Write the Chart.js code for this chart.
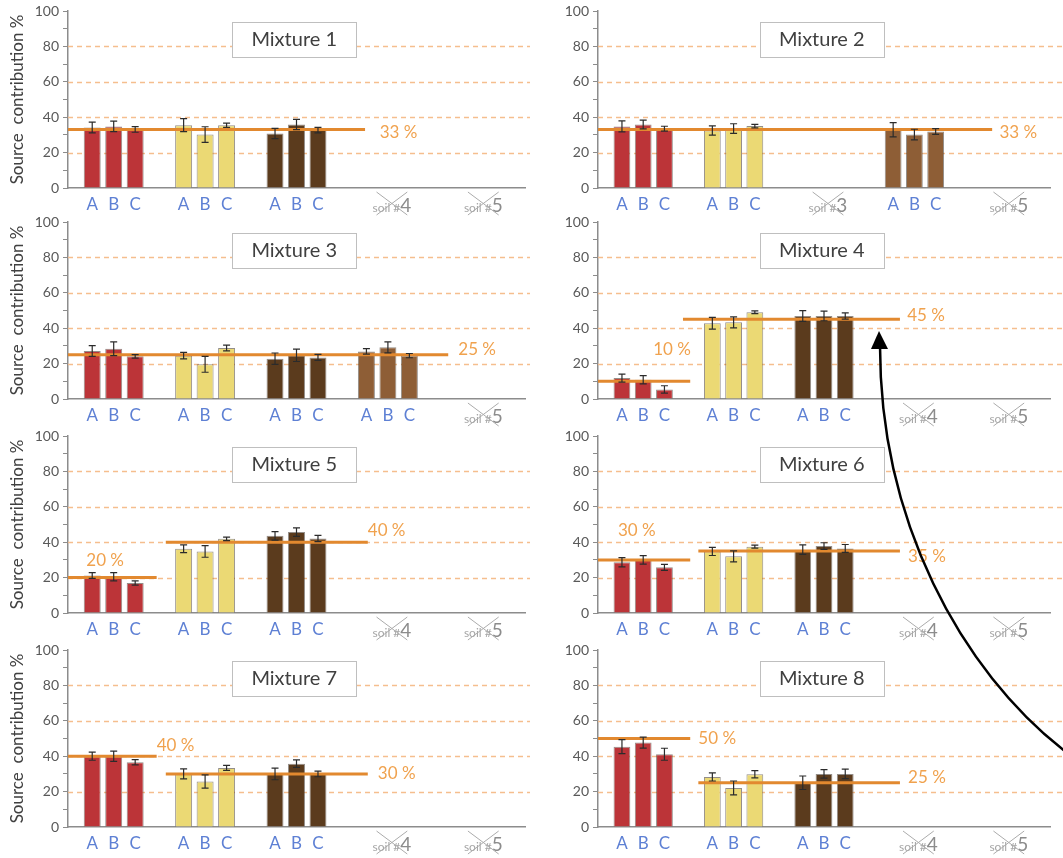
<!DOCTYPE html>
<html>
<head>
<meta charset="utf-8">
<title>Source contributions in soil mixtures</title>
<script src="https://cdn.jsdelivr.net/npm/chart.js@4.4.1/dist/chart.umd.min.js"></script>
<style>
  html, body { margin: 0; padding: 0; background: #ffffff; }
  #page { position: relative; width: 1063px; height: 858px; overflow: hidden; background: #ffffff; }
  .panel { position: absolute; }
  #arrow { position: absolute; left: 0; top: 0; pointer-events: none; }
</style>
</head>
<body>
<div id="page"></div>
<script>
// ---- data -------------------------------------------------------------
const soils = ['soil #1', 'soil #2', 'soil #3', 'soil #4', 'soil #5'];
const replicates = ['A', 'B', 'C'];
const mixtureNames = ['Mixture 1', 'Mixture 2', 'Mixture 3', 'Mixture 4',
                      'Mixture 5', 'Mixture 6', 'Mixture 7', 'Mixture 8'];
const yTicks = [0, 20, 40, 60, 80, 100];

// mean contribution (%) per soil, replicates A/B/C; null = soil not in mixture
const means1 = [[34.2, 34.8, 33.1], [35.5, 30.2, 35.5], [30.8, 35.9, 32.7], null, null];
const means2 = [[34.8, 35.9, 33.5], [32.5, 33.6, 35.0], null, [32.9, 30.2, 31.9], null];
const means3 = [[27.1, 28.4, 24.1], [24.5, 19.6, 28.8], [22.8, 24.7, 23.5], [26.9, 29.2, 24.5], null];
const means4 = [[11.8, 10.9, 5.4], [42.8, 43.3, 49.0], [46.9, 46.9, 46.9], null, null];
const means5 = [[21.2, 20.5, 16.9], [36.3, 34.8, 41.9], [43.6, 45.7, 42.1], null, null];
const means6 = [[28.7, 30.0, 25.8], [34.8, 32.0, 37.5], [35.8, 37.8, 36.5], null, null];
const means7 = [[40.0, 40.0, 36.6], [30.0, 25.7, 33.4], [30.0, 35.8, 30.0], null, null];
const means8 = [[45.4, 47.7, 41.1], [28.3, 22.1, 29.8], [25.0, 30.0, 30.0], null, null];

// standard deviation (%) for the same bars
const errors1 = [[3.0, 3.0, 1.6], [3.7, 4.4, 1.2], [2.9, 2.9, 1.5], null, null];
const errors2 = [[3.1, 2.5, 1.4], [2.6, 2.7, 1.0], null, [4.0, 3.0, 1.6], null];
const errors3 = [[3.0, 3.9, 1.0], [1.8, 4.5, 1.6], [3.2, 3.5, 1.7], [1.6, 3.1, 1.2], null];
const errors4 = [[2.3, 2.3, 2.1], [3.3, 3.1, 0.8], [3.0, 2.7, 1.8], null, null];
const errors5 = [[1.6, 2.3, 1.2], [2.2, 3.3, 1.0], [2.4, 2.4, 1.8], null, null];
const errors6 = [[2.6, 2.4, 1.7], [2.3, 3.1, 0.9], [2.7, 1.9, 2.2], null, null];
const errors7 = [[2.3, 2.9, 1.5], [2.8, 3.7, 1.4], [3.3, 2.1, 1.6], null, null];
const errors8 = [[4.0, 3.1, 3.4], [2.3, 3.9, 2.0], [3.8, 2.4, 2.7], null, null];

// true (prepared) proportions of each mixture, in %
const targets1 = [33];
const targets2 = [33];
const targets3 = [25];
const targets4 = [10, 45];
const targets5 = [20, 40];
const targets6 = [30, 35];
const targets7 = [40, 30];
const targets8 = [50, 25];

const allMeans = [means1, means2, means3, means4, means5, means6, means7, means8];
const allErrors = [errors1, errors2, errors3, errors4, errors5, errors6, errors7, errors8];
const allTargets = [targets1, targets2, targets3, targets4, targets5, targets6, targets7, targets8];

// ---- layout / style ---------------------------------------------------
const FONT = 'Lato, "Open Sans", "DejaVu Sans", sans-serif';
const soilColors = ['#BC3438', '#EBD974', '#5B3B1D', '#8E5E36', '#999999'];
const rowTops = [1, 212, 426, 640];
const PANEL_H = 220;

// horizontal extent of each target line in category units, where its label starts,
// and the label's vertical offset (px) from the line
const targetSpans = [
  [[-0.5, 2.75, 2.91, 3]],
  [[-0.5, 3.86, 3.94, 3]],
  [[-0.5, 3.66, 3.77, -5]],
  [[-0.5, 0.52, 0.11, -32], [0.44, 2.84, 2.92, -4]],
  [[-0.5, 0.47, -0.30, -17], [0.57, 2.78, 2.78, -12]],
  [[-0.5, 0.52, -0.28, -29], [0.61, 2.84, 2.93, 5]],
  [[-0.5, 0.47, 0.47, -11], [0.57, 2.78, 2.89, 0]],
  [[-0.5, 0.52, 0.61, 0], [0.61, 2.84, 2.93, -5]]
];

// ---- drawing helpers ---------------------------------------------------
const panelDecor = {
  id: 'panelDecor',
  beforeDatasetsDraw(chart) {
    const { ctx, chartArea: a, scales: { y } } = chart;
    ctx.save();
    ctx.strokeStyle = '#F5BE8E';
    ctx.lineWidth = 1.4;
    ctx.setLineDash([5, 4]);
    yTicks.filter(v => v > 0 && v < 100).forEach(v => {
      const py = Math.round(y.getPixelForValue(v)) + 0.5;
      ctx.beginPath();
      ctx.moveTo(a.left, py);
      ctx.lineTo(chart.width, py);
      ctx.stroke();
    });
    ctx.restore();
  },
  afterDatasetsDraw(chart, args, opts) {
    const { ctx, chartArea: a, scales: { x, y } } = chart;
    const means = opts.means, errors = opts.errors;

    // target proportion lines
    ctx.save();
    opts.targets.forEach((t, k) => {
      const [from, to, labX, labDy] = opts.spans[k];
      const py = y.getPixelForValue(t);
      ctx.strokeStyle = '#E2892F';
      ctx.lineWidth = 3;
      ctx.beginPath();
      ctx.moveTo(x.getPixelForValue(from), py);
      ctx.lineTo(x.getPixelForValue(to), py);
      ctx.stroke();
      ctx.fillStyle = '#F0A24E';
      ctx.font = `17px ${FONT}`;
      ctx.textAlign = 'left';
      ctx.textBaseline = 'middle';
      ctx.fillText(t + ' %', x.getPixelForValue(labX), py + labDy);
    });
    ctx.restore();

    // error bars
    ctx.save();
    ctx.strokeStyle = '#2b2b2b';
    ctx.lineWidth = 1.2;
    for (let r = 0; r < replicates.length; r++) {
      const meta = chart.getDatasetMeta(r);
      means.forEach((s, i) => {
        if (!s) return;
        const bx = meta.data[i].x;
        const yt = y.getPixelForValue(s[r] + errors[i][r]);
        const yb = y.getPixelForValue(s[r] - errors[i][r]);
        ctx.beginPath();
        ctx.moveTo(bx, yt); ctx.lineTo(bx, yb);
        ctx.moveTo(bx - 3.5, yt); ctx.lineTo(bx + 3.5, yt);
        ctx.moveTo(bx - 3.5, yb); ctx.lineTo(bx + 3.5, yb);
        ctx.stroke();
      });
    }
    ctx.restore();

    // category labels: replicate letters, or crossed-out soil name when absent
    ctx.save();
    means.forEach((s, i) => {
      if (s) {
        ctx.fillStyle = '#5E80D4';
        ctx.font = `17px ${FONT}`;
        ctx.textAlign = 'center';
        ctx.textBaseline = 'alphabetic';
        for (let r = 0; r < replicates.length; r++) {
          const bar = chart.getDatasetMeta(r).data[i];
          ctx.fillText(replicates[r], bar.x, a.bottom + 22);
        }
      } else {
        const cx = x.getPixelForValue(i) + 4;
        const [name, num] = soils[i].split('#');
        const small = name + '#';
        ctx.textAlign = 'left';
        ctx.textBaseline = 'alphabetic';
        ctx.font = `12px ${FONT}`;
        const w1 = ctx.measureText(small).width;
        ctx.font = `19px ${FONT}`;
        const w2 = ctx.measureText(num).width;
        const x0 = cx - (w1 + w2) / 2;
        const base = a.bottom + 24;
        ctx.fillStyle = '#A6A6A6';
        ctx.font = `12px ${FONT}`;
        ctx.fillText(small, x0, base);
        ctx.fillStyle = '#8C8C8C';
        ctx.font = `19px ${FONT}`;
        ctx.fillText(num, x0 + w1, base);
        ctx.strokeStyle = '#ABABAB';
        ctx.lineWidth = 1;
        const xl = x0 + 4, xr = x0 + w1 + w2 - 4;
        ctx.beginPath();
        ctx.moveTo(xl, a.bottom + 4); ctx.lineTo(xr, a.bottom + 27);
        ctx.moveTo(xr, a.bottom + 4); ctx.lineTo(xl, a.bottom + 27);
        ctx.stroke();
      }
    });
    ctx.restore();

    // mixture name box
    ctx.save();
    const bx = a.left + (a.right - a.left) * 0.495;
    const by = a.top + 11;
    ctx.fillStyle = '#ffffff';
    ctx.fillRect(bx - 62, by, 124, 35);
    ctx.strokeStyle = '#BFBFBF';
    ctx.lineWidth = 1;
    ctx.strokeRect(Math.round(bx - 62) + 0.5, by + 0.5, 124, 35);
    ctx.fillStyle = '#404040';
    ctx.font = `20px ${FONT}`;
    ctx.textAlign = 'center';
    ctx.textBaseline = 'middle';
    ctx.fillText(opts.title, bx, by + 18);
    ctx.restore();
  }
};

// ---- build the eight panels -------------------------------------------
const page = document.getElementById('page');

allMeans.forEach((means, idx) => {
  const col = idx % 2;
  const row = Math.floor(idx / 2);
  const width = col ? 533 : 530;
  const canvas = document.createElement('canvas');
  canvas.className = 'panel';
  canvas.width = width;
  canvas.height = PANEL_H;
  canvas.style.left = (col ? 530 : 0) + 'px';
  canvas.style.top = rowTops[row] + 'px';
  page.appendChild(canvas);

  const datasets = replicates.map((rep, r) => ({
    label: rep,
    data: means.map(s => (s ? s[r] : null)),
    backgroundColor: means.map((s, i) => soilColors[i]),
    borderColor: 'rgba(60,50,40,0.55)',
    borderWidth: 1,
    categoryPercentage: 0.705,
    barPercentage: 0.79
  }));

  new Chart(canvas, {
    type: 'bar',
    data: { labels: soils, datasets },
    options: {
      responsive: false,
      animation: false,
      devicePixelRatio: 1,
      layout: { padding: { left: 0, right: col ? 13 : 5, top: 10, bottom: PANEL_H - 195 } },
      plugins: {
        legend: { display: false },
        tooltip: { enabled: false },
        panelDecor: {
          means,
          errors: allErrors[idx],
          targets: allTargets[idx],
          spans: targetSpans[idx],
          title: mixtureNames[idx]
        }
      },
      scales: {
        x: {
          grid: { display: false },
          ticks: { display: false },
          border: { color: '#8C8C8C', width: 1.5 }
        },
        y: {
          min: 0,
          max: 100,
          ticks: {
            stepSize: 10,
            autoSkip: false,
            callback: v => (yTicks.includes(v) ? String(v) : ''),
            color: '#595959',
            font: { family: FONT, size: 14 },
            padding: 4
          },
          grid: { drawOnChartArea: false, tickLength: 5, color: '#8C8C8C', lineWidth: 1 },
          border: { color: '#8C8C8C', width: 1.5 },
          title: {
            display: col === 0,
            text: 'Source  contribution %',
            color: '#404040',
            font: { family: FONT, size: 17 },
            padding: { top: 7, bottom: 0 }
          },
          afterFit(scale) {
            scale.width = 68;
            scale.paddingTop = 0;
            scale.paddingBottom = 0;
          }
        }
      }
    },
    plugins: [panelDecor]
  });
});

// ---- curved arrow pointing at the soil #3 bars of Mixture 4 ------------
const arrow = document.createElement('canvas');
arrow.id = 'arrow';
arrow.width = 1063;
arrow.height = 858;
page.appendChild(arrow);
const actx = arrow.getContext('2d');
actx.strokeStyle = '#000000';
actx.fillStyle = '#000000';
actx.lineWidth = 2.5;
actx.beginPath();
actx.moveTo(1066, 752);
actx.bezierCurveTo(960, 670, 880, 520, 880, 346);
actx.stroke();
actx.beginPath();
actx.moveTo(879, 331);
actx.lineTo(871, 349);
actx.lineTo(888, 349);
actx.closePath();
actx.fill();
</script>
</body>
</html>
